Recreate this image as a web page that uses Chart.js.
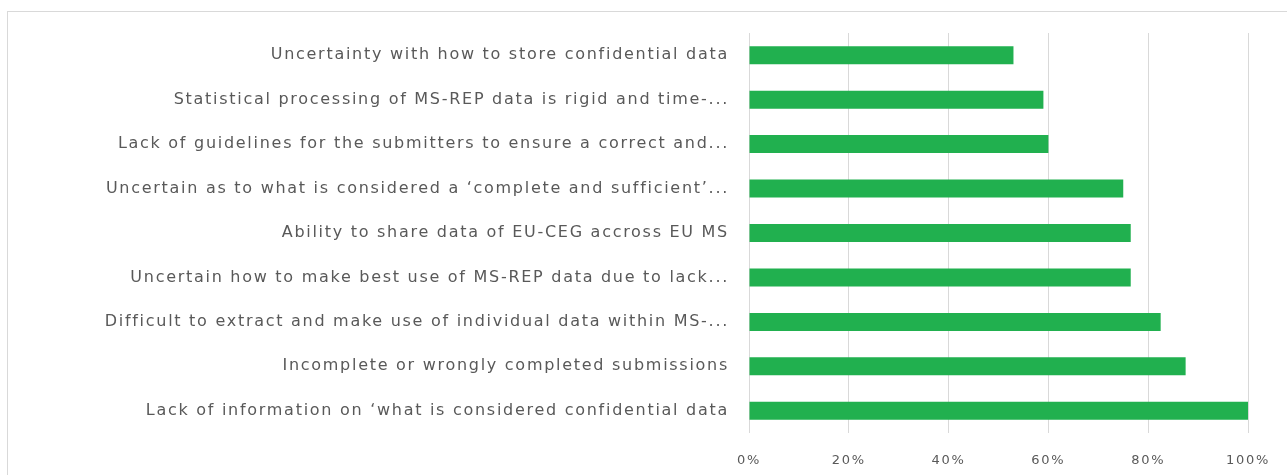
<!DOCTYPE html>
<html>
<head>
<meta charset="utf-8">
<script src="https://cdn.jsdelivr.net/npm/chart.js@4"></script>
<style>
  html, body { margin: 0; padding: 0; background: #fff; overflow: hidden; }
  #frame { position: absolute; left: 7px; top: 11px; width: 1300px; height: 500px; border: 1px solid #d9d9d9; box-sizing: border-box; }
  #wrap { position: absolute; left: 0; top: 0; width: 1287px; height: 475px; }
</style>
</head>
<body>
<div id="frame"></div>
<div id="wrap"><canvas id="c" width="1287" height="475"></canvas></div>
<script>
const categories = [
  "Uncertainty with how to store confidential data",
  "Statistical processing of MS-REP data is rigid and time-...",
  "Lack of guidelines for the submitters to ensure a correct and...",
  "Uncertain as to what is considered a \u2018complete and sufficient\u2019...",
  "Ability to share data of EU-CEG accross EU MS",
  "Uncertain how to make best use of MS-REP data due to lack...",
  "Difficult to extract and make use of individual data within MS-...",
  "Incomplete or wrongly completed submissions",
  "Lack of information on \u2018what is considered confidential data"
];
const values = [0.53, 0.59, 0.60, 0.75, 0.765, 0.765, 0.825, 0.875, 1.00];
const tickValues = [0, 0.2, 0.4, 0.6, 0.8, 1.0];

const textColor = '#595959';
const fontFamily = '"DejaVu Sans", "Open Sans", sans-serif';
const spacing = '1.72px';

const spacingPlugin = {
  id: 'spacing',
  beforeInit(chart) { chart.ctx.letterSpacing = spacing; },
  beforeUpdate(chart) { chart.ctx.letterSpacing = spacing; },
  beforeDraw(chart) { chart.ctx.letterSpacing = spacing; }
};

new Chart(document.getElementById('c'), {
  type: 'bar',
  plugins: [spacingPlugin],
  data: {
    labels: categories,
    datasets: [{
      data: values,
      backgroundColor: '#21B04F',
      borderWidth: 0,
      barPercentage: 0.9,
      categoryPercentage: 0.45
    }]
  },
  options: {
    indexAxis: 'y',
    responsive: false,
    animation: false,
    devicePixelRatio: 1,
    layout: { padding: { top: 33, right: 39, left: 0, bottom: 0 } },
    plugins: { legend: { display: false }, tooltip: { enabled: false } },
    scales: {
      x: {
        min: 0, max: 1,
        afterBuildTicks: (s) => { s.ticks = tickValues.map(v => ({ value: v })); },
        afterFit: (s) => { s.height = 42; s.paddingLeft = 0; s.paddingRight = 0; },
        grid: { color: '#d9d9d9', lineWidth: 1, drawTicks: false },
        border: { display: false },
        ticks: {
          padding: 20,
          color: textColor,
          font: { family: fontFamily, size: 13 },
          callback: (v) => Math.round(v * 100) + '%'
        }
      },
      y: {
        afterFit: (s) => { s.width = 749; s.paddingTop = 0; s.paddingBottom = 0; },
        grid: { display: false, drawTicks: false },
        border: { display: false },
        ticks: {
          padding: 20,
          color: textColor,
          autoSkip: false,
          font: { family: fontFamily, size: 16 }
        }
      }
    }
  }
});
</script>
</body>
</html>
